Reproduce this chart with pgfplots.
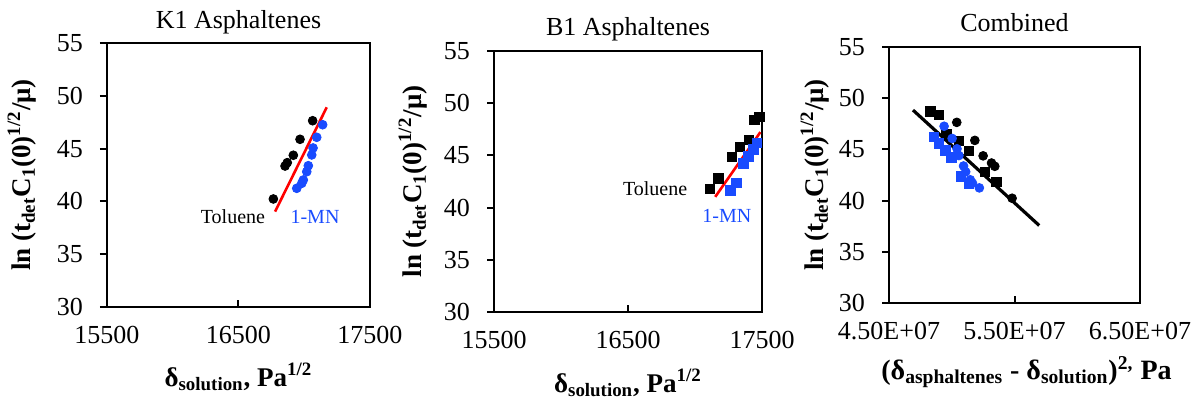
\documentclass[border=0pt]{standalone}
\usepackage{fontspec}
\setmainfont{Liberation Serif}
\usepackage{pgfplots}
\pgfplotsset{compat=1.18}
\definecolor{mnblue}{RGB}{25,75,255}
\definecolor{fitred}{RGB}{255,0,0}
\pgfplotsset{
  panel/.style={
    scale only axis, clip=false,
    axis line style={line width=1pt},
    every tick/.style={black, line width=1pt},
    major tick length=3.5pt,
    xtick pos=bottom, ytick pos=left,
    xtick align=inside, ytick align=outside,
    ymin=30, ymax=55, ytick={30,35,40,45,50,55},
    yticklabels={30,35,40,45,50,55},
    scaled x ticks=false, scaled y ticks=false,
    tick label style={font=\fontsize{13}{13}\selectfont},
    yticklabel style={xshift=-5pt},
    xticklabel style={yshift=-6pt},
    /pgf/number format/assume math mode=true,
  },
  dotk/.style={only marks, mark=*, mark size=2.2pt, mark options={draw=black, fill=black}},
  dotb/.style={only marks, mark=*, mark size=2.2pt, mark options={draw=mnblue, fill=mnblue}},
  sqk/.style={only marks, mark=square*, mark size=2.35pt, mark options={draw=black, fill=black}},
  sqb/.style={only marks, mark=square*, mark size=2.35pt, mark options={draw=mnblue, fill=mnblue}},
}
\newcommand{\ylab}{\textbf{ln (t\textsubscript{det}C\textsubscript{1}(0)\textsuperscript{1/2}/μ)}}
\begin{document}
\begin{tikzpicture}
\path[use as bounding box] (0,0) rectangle (598pt,201pt);

% ---------- Panel 1 ----------
\begin{axis}[panel, at={(53.5pt,47.5pt)}, anchor=south west,
  width=131.5pt, height=132pt,
  xmin=15500, xmax=17500, xtick={15500,16500,17500},
  xticklabels={15500,16500,17500}]
\addplot[dotk] coordinates {(16765,40.23) (16854,43.35) (16871,43.67) (16917,44.37) (16968,45.88) (17064,47.64)};
\addplot[dotb] coordinates {(17140,47.26) (17095,46.07) (17067,45.06) (17057,44.40) (17031,43.38) (17019,42.81) (16993,42.03) (16981,41.71) (16943,41.24)};
\addplot[fitred, line width=1.3pt] coordinates {(16778,39.03) (17171,48.91)};
\node[font=\fontsize{10}{10}\selectfont] at (axis cs:16458,38.6) {Toluene};
\node[font=\fontsize{10}{10}\selectfont, text=mnblue] at (axis cs:17082,38.5) {1-MN};
\node[font=\fontsize{13}{13}\selectfont, yshift=10.5pt] at (rel axis cs:0.5,1) {K1 Asphaltenes};
\node[font=\fontsize{13.5}{13.5}\selectfont, yshift=-35pt] at (rel axis cs:0.5,0) {\textbf{δ\textsubscript{solution}, Pa\textsuperscript{1/2}}};
\node[font=\fontsize{13.5}{13.5}\selectfont, xshift=-42.5pt, rotate=90] at (rel axis cs:0,0.5) {\ylab};
\end{axis}

% ---------- Panel 2 ----------
\begin{axis}[panel, at={(247pt,45pt)}, anchor=south west,
  width=134pt, height=130.5pt,
  xmin=15500, xmax=17500, xtick={15500,16500,17500},
  xticklabels={15500,16500,17500}]
\addplot[sqk] coordinates {(17113,41.80) (17176,42.78) (17276,44.87) (17333,45.83) (17400,46.46) (17443,48.38) (17482,48.70)};
\addplot[sqb] coordinates {(17263,41.63) (17308,42.37) (17362,44.22) (17398,44.92) (17435,45.57) (17461,46.21)};
\addplot[fitred, line width=1.3pt] coordinates {(17151,41.03) (17488,47.23)};
\node[font=\fontsize{10}{10}\selectfont] at (axis cs:16702,41.8) {Toluene};
\node[font=\fontsize{10}{10}\selectfont, text=mnblue] at (axis cs:17238,39.23) {1-MN};
\node[font=\fontsize{13}{13}\selectfont, yshift=11pt] at (rel axis cs:0.5,1) {B1 Asphaltenes};
\node[font=\fontsize{13.5}{13.5}\selectfont, yshift=-35.5pt] at (rel axis cs:0.5,0) {\textbf{δ\textsubscript{solution}, Pa\textsuperscript{1/2}}};
\node[font=\fontsize{13.5}{13.5}\selectfont, xshift=-40.5pt, rotate=90] at (rel axis cs:0,0.5) {\ylab};
\end{axis}

% ---------- Panel 3 ----------
\begin{axis}[panel, at={(444.5pt,49.5pt)}, anchor=south west,
  width=125.5pt, height=128pt,
  xmin=4.5e7, xmax=6.5e7, xtick={4.5e7,5.5e7,6.5e7},
  xticklabels={4.50E+07,5.50E+07,6.50E+07}]
\addplot[sqk] coordinates {(4.830e7,48.70) (4.896e7,48.38) (4.958e7,46.46) (5.058e7,45.83) (5.136e7,44.87) (5.263e7,42.78) (5.357e7,41.80)};
\addplot[dotk] coordinates {(5.040e7,47.64) (5.184e7,45.88) (5.250e7,44.37) (5.317e7,43.67) (5.343e7,43.35) (5.481e7,40.23)};
\addplot[sqb] coordinates {(4.860e7,46.21) (4.896e7,45.57) (4.948e7,44.92) (4.998e7,44.22) (5.075e7,42.37) (5.139e7,41.63)};
\addplot[dotb] coordinates {(4.939e7,47.26) (5.003e7,46.07) (5.042e7,45.06) (5.057e7,44.40) (5.094e7,43.38) (5.111e7,42.81) (5.148e7,42.03) (5.165e7,41.71) (5.220e7,41.24)};
\addplot[black, line width=1.6pt] coordinates {(4.691e7,48.84) (5.697e7,37.57)};
\node[font=\fontsize{13}{13}\selectfont, yshift=12pt] at (rel axis cs:0.5,1) {Combined};
\node[font=\fontsize{14}{14}\selectfont, yshift=-34.5pt, xshift=6pt] at (rel axis cs:0.5,0) {\textbf{(δ\textsubscript{asphaltenes} - δ\textsubscript{solution})\textsuperscript{2,} Pa}};
\node[font=\fontsize{13.5}{13.5}\selectfont, xshift=-37pt, rotate=90] at (rel axis cs:0,0.5) {\ylab};
\end{axis}
\end{tikzpicture}
\end{document}
